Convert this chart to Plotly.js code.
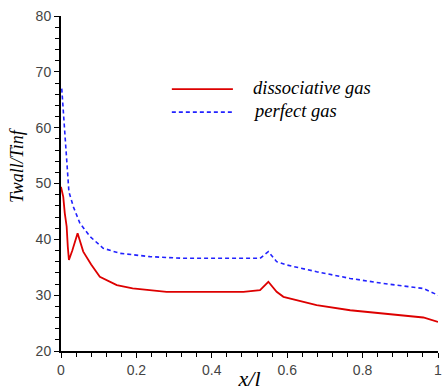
<!DOCTYPE html>
<html>
<head>
<meta charset="utf-8">
<script src="https://cdn.plot.ly/plotly-3.0.1.min.js"></script>
<style>html,body{margin:0;padding:0;background:#fff}#plot{width:443px;height:391px}</style>
</head>
<body>
<div id="plot"></div>
<script>
// Dissociative gas
const xDiss = [0, 0.006, 0.010, 0.015, 0.018, 0.021, 0.030, 0.044, 0.059, 0.080, 0.103, 0.148, 0.190, 0.236, 0.280, 0.484, 0.528, 0.550, 0.572, 0.590, 0.678, 0.767, 0.855, 0.961, 1.0];
const yDiss = [49.4, 47.6, 44.7, 42.3, 38.7, 36.3, 38.0, 41.1, 37.8, 35.5, 33.3, 31.8, 31.2, 30.9, 30.6, 30.6, 30.9, 32.4, 30.6, 29.7, 28.2, 27.3, 26.7, 26.0, 25.2];
// Perfect gas
const xPerf = [0.002, 0.006, 0.010, 0.015, 0.021, 0.033, 0.050, 0.077, 0.112, 0.156, 0.236, 0.324, 0.528, 0.550, 0.572, 0.599, 0.678, 0.767, 0.855, 0.961, 1.0];
const yPerf = [67.0, 63.2, 59.0, 54.2, 48.5, 45.8, 42.9, 40.5, 38.4, 37.5, 36.9, 36.6, 36.6, 37.8, 36.0, 35.4, 34.2, 33.0, 32.1, 31.2, 30.0];
const seriesNames = ['dissociative gas', 'perfect gas'];
const seriesColors = ['#dd0000', '#2222ff'];
const seriesDash = ['solid', '4px,3px'];
const xTicks = [0, 0.2, 0.4, 0.6, 0.8, 1];
const xTickText = ['0', '0.2', '0.4', '0.6', '0.8', '1'];
const yTicks = [20, 30, 40, 50, 60, 70, 80];
const yTitle = 'Twall/Tinf';
const xTitle = 'x/l';

const traces = [
  {x: xDiss, y: yDiss, name: seriesNames[0], mode: 'lines', line: {color: seriesColors[0], width: 1.8, dash: seriesDash[0]}},
  {x: xPerf, y: yPerf, name: seriesNames[1], mode: 'lines', line: {color: seriesColors[1], width: 1.6, dash: seriesDash[1]}}
];
const serif = 'Liberation Serif, Times New Roman, serif';
const tickFont = {family: 'Liberation Sans, Arial, sans-serif', size: 14, color: '#444'};

// Manual legend (paper coordinates)
const legY = [0.782, 0.713];
const shapes = seriesNames.map((n, i) => ({type: 'line', xref: 'paper', yref: 'paper', x0: 0.294, x1: 0.456, y0: legY[i], y1: legY[i],
  line: {color: seriesColors[i], width: i === 0 ? 1.8 : 1.6, dash: seriesDash[i]}}));
const annotations = seriesNames.map((n, i) => ({xref: 'paper', yref: 'paper', x: 0.505, y: legY[i] + 0.004, xanchor: 'left', yanchor: 'middle',
  text: n, showarrow: false, font: {family: serif, size: 18.5, color: '#000', style: 'italic'}}));
annotations.push({xref: 'paper', yref: 'paper', x: -0.117, y: 0.555, xanchor: 'center', yanchor: 'middle', textangle: -90,
  text: yTitle, showarrow: false, font: {family: serif, size: 18, color: '#000', style: 'italic'}});

const layout = {
  width: 443, height: 391,
  margin: {l: 61, r: 5, t: 16, b: 40},
  paper_bgcolor: '#fff', plot_bgcolor: '#fff',
  showlegend: false,
  shapes: shapes, annotations: annotations,
  xaxis: {range: [0, 1], tickvals: xTicks, ticktext: xTickText, ticks: 'outside', ticklen: 5, tickwidth: 1, tickcolor: '#000',
    minor: {dtick: 0.04, ticks: 'outside', ticklen: 4, tickcolor: '#000', showgrid: false},
    showline: true, linecolor: '#000', linewidth: 2, showgrid: false, zeroline: false, tickfont: tickFont,
    title: {text: xTitle, font: {family: serif, size: 22, color: '#000', style: 'italic'}, standoff: 2}},
  yaxis: {range: [20, 80], tickvals: yTicks, ticks: 'outside', ticklen: 5, tickwidth: 1, tickcolor: '#000',
    minor: {dtick: 2, ticks: 'outside', ticklen: 4, tickcolor: '#000', showgrid: false},
    showline: true, linecolor: '#000', linewidth: 2, showgrid: false, zeroline: false, tickfont: tickFont}
};
Plotly.newPlot('plot', traces, layout, {staticPlot: true, displayModeBar: false});
</script>
</body>
</html>
